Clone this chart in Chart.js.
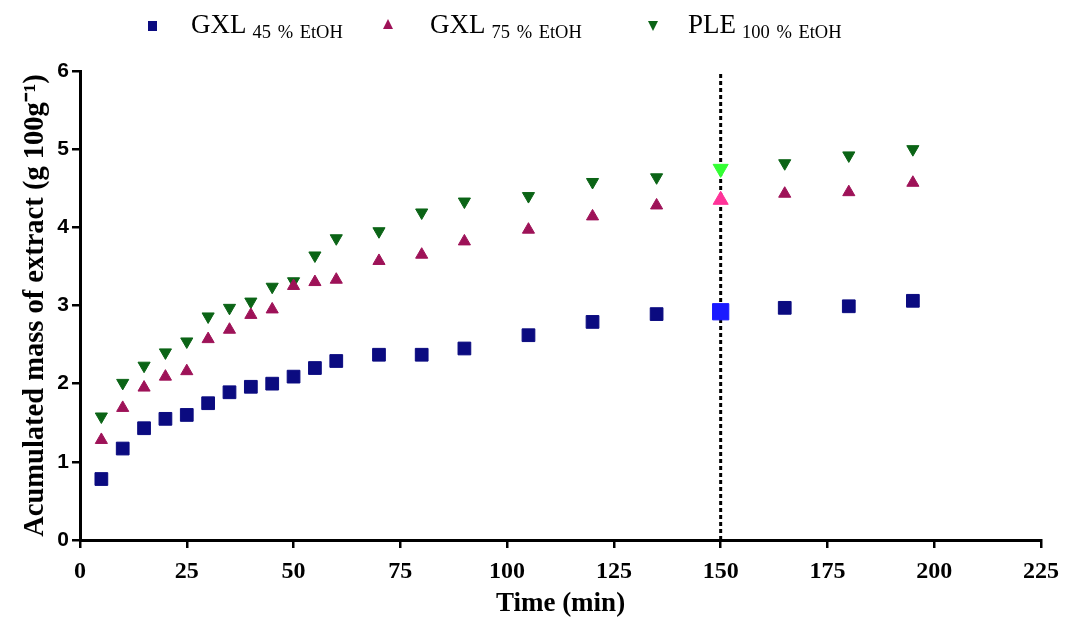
<!DOCTYPE html>
<html>
<head>
<meta charset="utf-8">
<script src="https://cdn.jsdelivr.net/npm/chart.js@4.4.1/dist/chart.umd.min.js"></script>
<style>
  html, body { margin: 0; padding: 0; background: #fff; }
  #wrap { position: relative; width: 1065px; height: 621px; }
  #c { position: absolute; left: 0; top: 0; }
  .leg { position: absolute; top: 9px; font-family: "Liberation Serif", "Times New Roman", serif; color: #000; white-space: nowrap; line-height: 30px; }
  .leg .main { font-size: 27px; }
  .leg .sub { font-size: 18.5px; position: relative; top: 5px; margin-left: 6px; word-spacing: 2px; }
  .mk { position: absolute; }
</style>
</head>
<body>
<div id="wrap">
  <canvas id="c" width="1065" height="621"></canvas>
</div>
<script>
// ---- data ----
const timeMin = [5, 10, 15, 20, 25, 30, 35, 40, 45, 50, 55, 60, 70, 80, 90, 105, 120, 135, 150, 165, 180, 195];
const gxl45 = [0.78, 1.17, 1.43, 1.55, 1.60, 1.75, 1.89, 1.96, 2.00, 2.09, 2.20, 2.29, 2.37, 2.37, 2.45, 2.62, 2.79, 2.89, 2.92, 2.97, 2.99, 3.06];
const gxl75 = [1.28, 1.69, 1.95, 2.09, 2.16, 2.57, 2.69, 2.88, 2.95, 3.25, 3.30, 3.33, 3.57, 3.65, 3.82, 3.97, 4.14, 4.28, 4.35, 4.43, 4.45, 4.57];
const ple100 = [1.58, 2.01, 2.23, 2.40, 2.54, 2.86, 2.97, 3.05, 3.24, 3.31, 3.64, 3.86, 3.95, 4.19, 4.33, 4.40, 4.58, 4.64, 4.75, 4.82, 4.92, 5.00];
const seriesNames = ["GXL", "GXL", "PLE"];
const seriesSubs = ["45 % EtOH", "75 % EtOH", "100 % EtOH"];
const cutoffTime = 150;
const xTicksMax = 225;
const yTicksMax = 6;
const xAxisTitle = "Time (min)";
const yAxisTitle = "Acumulated mass of extract (g 100g\u207B\u00B9)";

// ---- styles ----
const colors = ["#0b0b80", "#9e1258", "#0b6416"];
const hiColors = ["#1a1aff", "#ff3399", "#33ff33"];
const styles = ["rect", "triangle", "triangle"];
const rotations = [0, 0, 180];
const radii = [9, 7, 7];
const hiRadii = [11.5, 8.7, 8.7];

function pts(ys) { return timeMin.map((t, i) => ({ x: t, y: ys[i] })); }
const allSeries = [gxl45, gxl75, ple100];
const isHi = ctx => ctx.raw && ctx.raw.x === cutoffTime;

const datasets = allSeries.map((ys, k) => ({
  label: seriesNames[k] + " " + seriesSubs[k],
  data: pts(ys),
  showLine: false,
  pointStyle: styles[k],
  rotation: rotations[k],
  pointRadius: ctx => isHi(ctx) ? hiRadii[k] : radii[k],
  pointHoverRadius: ctx => isHi(ctx) ? hiRadii[k] : radii[k],
  backgroundColor: ctx => isHi(ctx) ? hiColors[k] : colors[k],
  borderColor: ctx => isHi(ctx) ? hiColors[k] : colors[k],
  borderWidth: 1
}));

datasets.push({
  type: "line",
  label: "cutoff",
  data: [{ x: cutoffTime, y: 0 }, { x: cutoffTime, y: yTicksMax }],
  borderColor: "#000",
  borderWidth: 3,
  borderDash: [4, 3],
  pointRadius: 0,
  fill: false
});

new Chart(document.getElementById("c"), {
  type: "scatter",
  data: { datasets },
  options: {
    responsive: false,
    animation: false,
    events: [],
    layout: { padding: { left: 0, top: 71, right: 24, bottom: 0 } },
    plugins: { legend: { display: false }, tooltip: { enabled: false } },
    scales: {
      x: {
        type: "linear", min: 0, max: xTicksMax,
        afterFit: s => { s.height = 81; s.paddingLeft = 0; s.paddingRight = 0; },
        ticks: { stepSize: 25, color: "#000", padding: 9,
                 font: { family: "Liberation Serif", weight: "bold", size: 24 } },
        grid: { drawOnChartArea: false, drawTicks: true, tickLength: 8, color: "#000", lineWidth: 2.5 },
        border: { color: "#000", width: 3 },
        title: { display: true, text: xAxisTitle, color: "#000", padding: { top: 0, bottom: 1 },
                 font: { family: "Liberation Serif", weight: "bold", size: 27 } }
      },
      y: {
        type: "linear", min: 0, max: yTicksMax,
        afterFit: s => { s.width = 80; },
        ticks: { stepSize: 1, color: "#000", padding: 3,
                 font: { family: "Liberation Sans", weight: "bold", size: 21 } },
        grid: { drawOnChartArea: false, drawTicks: true, tickLength: 8, color: "#000", lineWidth: 2.5 },
        border: { color: "#000", width: 3 },
        title: { display: true, text: yAxisTitle, color: "#000", padding: { top: 19, bottom: 0 },
                 font: { family: "Liberation Serif", weight: "bold", size: 28.5 } }
      }
    }
  }
});

// ---- HTML legend (real text) ----
const legX = [{ mk: 152, tx: 191 }, { mk: 388, tx: 430 }, { mk: 653, tx: 688 }];
const wrap = document.getElementById("wrap");
seriesNames.forEach((name, k) => {
  const m = document.createElement("div");
  m.className = "mk";
  if (k === 0) {
    Object.assign(m.style, { left: (legX[k].mk - 4.5) + "px", top: "21px", width: "9px", height: "10px", background: colors[k] });
  } else if (k === 1) {
    Object.assign(m.style, { left: (legX[k].mk - 5) + "px", top: "19px", width: "0", height: "0",
      borderLeft: "5px solid transparent", borderRight: "5px solid transparent", borderBottom: "10px solid " + colors[k] });
  } else {
    Object.assign(m.style, { left: (legX[k].mk - 5) + "px", top: "21px", width: "0", height: "0",
      borderLeft: "5px solid transparent", borderRight: "5px solid transparent", borderTop: "10px solid " + colors[k] });
  }
  wrap.appendChild(m);
  const t = document.createElement("div");
  t.className = "leg";
  t.style.left = legX[k].tx + "px";
  t.innerHTML = '<span class="main"></span><span class="sub"></span>';
  t.querySelector(".main").textContent = name;
  t.querySelector(".sub").textContent = seriesSubs[k];
  wrap.appendChild(t);
});
</script>
</body>
</html>
